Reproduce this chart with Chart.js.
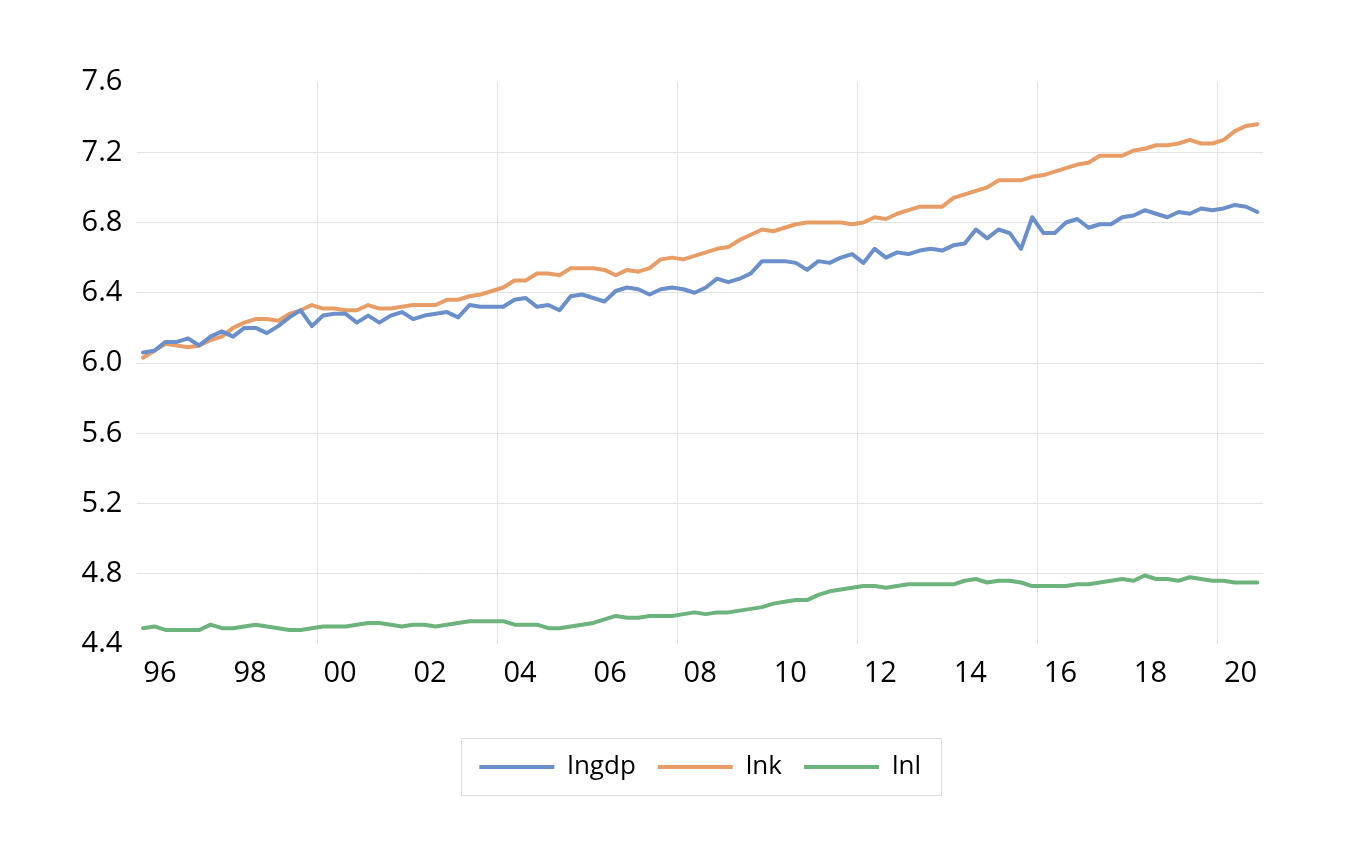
<!DOCTYPE html>
<html>
<head>
<meta charset="utf-8">
<title>lngdp / lnk / lnl</title>
<script src="https://cdn.jsdelivr.net/npm/chart.js@4.4.1/dist/chart.umd.min.js"></script>
<style>
    body { margin: 0; background: #fff; }
    #wrap { width: 1353px; height: 861px; }
</style>
</head>
<body>
<div id="wrap"><canvas id="lineChart" width="1353" height="861"></canvas></div>
<script>
// quarterly, 1996Q1 .. 2020Q4 (x = quarter index 0..99)
const lngdp = [
    6.06, 6.07, 6.12, 6.12, 6.14, 6.10, 6.15, 6.18, 6.15, 6.20,
    6.20, 6.17, 6.21, 6.26, 6.30, 6.21, 6.27, 6.28, 6.28, 6.23,
    6.27, 6.23, 6.27, 6.29, 6.25, 6.27, 6.28, 6.29, 6.26, 6.33,
    6.32, 6.32, 6.32, 6.36, 6.37, 6.32, 6.33, 6.30, 6.38, 6.39,
    6.37, 6.35, 6.41, 6.43, 6.42, 6.39, 6.42, 6.43, 6.42, 6.40,
    6.43, 6.48, 6.46, 6.48, 6.51, 6.58, 6.58, 6.58, 6.57, 6.53,
    6.58, 6.57, 6.60, 6.62, 6.57, 6.65, 6.60, 6.63, 6.62, 6.64,
    6.65, 6.64, 6.67, 6.68, 6.76, 6.71, 6.76, 6.74, 6.65, 6.83,
    6.74, 6.74, 6.80, 6.82, 6.77, 6.79, 6.79, 6.83, 6.84, 6.87,
    6.85, 6.83, 6.86, 6.85, 6.88, 6.87, 6.88, 6.90, 6.89, 6.86
];
const lnk = [
    6.03, 6.07, 6.11, 6.10, 6.09, 6.10, 6.13, 6.15, 6.20, 6.23,
    6.25, 6.25, 6.24, 6.28, 6.30, 6.33, 6.31, 6.31, 6.30, 6.30,
    6.33, 6.31, 6.31, 6.32, 6.33, 6.33, 6.33, 6.36, 6.36, 6.38,
    6.39, 6.41, 6.43, 6.47, 6.47, 6.51, 6.51, 6.50, 6.54, 6.54,
    6.54, 6.53, 6.50, 6.53, 6.52, 6.54, 6.59, 6.60, 6.59, 6.61,
    6.63, 6.65, 6.66, 6.70, 6.73, 6.76, 6.75, 6.77, 6.79, 6.80,
    6.80, 6.80, 6.80, 6.79, 6.80, 6.83, 6.82, 6.85, 6.87, 6.89,
    6.89, 6.89, 6.94, 6.96, 6.98, 7.00, 7.04, 7.04, 7.04, 7.06,
    7.07, 7.09, 7.11, 7.13, 7.14, 7.18, 7.18, 7.18, 7.21, 7.22,
    7.24, 7.24, 7.25, 7.27, 7.25, 7.25, 7.27, 7.32, 7.35, 7.36
];
const lnl = [
    4.49, 4.50, 4.48, 4.48, 4.48, 4.48, 4.51, 4.49, 4.49, 4.50,
    4.51, 4.50, 4.49, 4.48, 4.48, 4.49, 4.50, 4.50, 4.50, 4.51,
    4.52, 4.52, 4.51, 4.50, 4.51, 4.51, 4.50, 4.51, 4.52, 4.53,
    4.53, 4.53, 4.53, 4.51, 4.51, 4.51, 4.49, 4.49, 4.50, 4.51,
    4.52, 4.54, 4.56, 4.55, 4.55, 4.56, 4.56, 4.56, 4.57, 4.58,
    4.57, 4.58, 4.58, 4.59, 4.60, 4.61, 4.63, 4.64, 4.65, 4.65,
    4.68, 4.70, 4.71, 4.72, 4.73, 4.73, 4.72, 4.73, 4.74, 4.74,
    4.74, 4.74, 4.74, 4.76, 4.77, 4.75, 4.76, 4.76, 4.75, 4.73,
    4.73, 4.73, 4.73, 4.74, 4.74, 4.75, 4.76, 4.77, 4.76, 4.79,
    4.77, 4.77, 4.76, 4.78, 4.77, 4.76, 4.76, 4.75, 4.75, 4.75
];

// one label every two years, centred on the year
const yearLabels = ['96', '98', '00', '02', '04', '06', '08', '10', '12', '14', '16', '18', '20'];
const yTicks = [4.4, 4.8, 5.2, 5.6, 6.0, 6.4, 6.8, 7.2, 7.6];

const BLUE = '#6b8fcb';
const ORANGE = '#e99d66';
const GREEN = '#6db37e';
const GRID = '#e3e3e3';

function toPoints(arr) {
    return arr.map((v, i) => ({ x: i, y: v }));
}

// tick positions: labels at year centres, grid lines every 4 years between quarters
const labelPos = yearLabels.map((_, k) => 1.5 + 8 * k);
const gridPos = [15.5, 31.5, 47.5, 63.5, 79.5, 95.5];

const legendFrame = {
    id: 'legendFrame',
    afterLayout(chart) {
        // centre the legend under the plot area
        const lg = chart.legend;
        lg.left = chart.chartArea.left;
        lg.right = chart.chartArea.right;
    },
    afterDraw(chart) {
        const boxes = chart.legend.legendHitBoxes;
        if (!boxes || !boxes.length) return;
        let l = Infinity, r = -Infinity, cy = 0;
        boxes.forEach(b => {
            l = Math.min(l, b.left);
            r = Math.max(r, b.left + b.width);
            cy = b.top + b.height / 2;
        });
        const ctx = chart.ctx;
        ctx.save();
        ctx.strokeStyle = '#dcdcdc';
        ctx.lineWidth = 1;
        ctx.strokeRect(Math.round(l - 18) + 0.5, Math.round(cy - 29) + 0.5, Math.round(r - l + 38), 57);
        ctx.restore();
    }
};

const ctx = document.getElementById('lineChart').getContext('2d');
new Chart(ctx, {
    type: 'line',
    data: {
        datasets: [
            { label: 'lngdp', data: toPoints(lngdp), borderColor: BLUE, backgroundColor: BLUE },
            { label: 'lnk', data: toPoints(lnk), borderColor: ORANGE, backgroundColor: ORANGE },
            { label: 'lnl', data: toPoints(lnl), borderColor: GREEN, backgroundColor: GREEN }
        ]
    },
    options: {
        responsive: false,
        animation: false,
        devicePixelRatio: 1,
        layout: {
            padding: { top: 82, right: 90, bottom: 71, left: 0 }
        },
        elements: {
            line: { borderWidth: 4, tension: 0, borderJoinStyle: 'round', borderCapStyle: 'round' },
            point: { radius: 0, hoverRadius: 0 }
        },
        scales: {
            x: {
                type: 'linear',
                min: -0.5,
                max: 99.5,
                afterBuildTicks(scale) {
                    scale.ticks = labelPos.concat(gridPos).sort((a, b) => a - b).map(v => ({ value: v }));
                },
                afterFit(scale) { scale.height = 88; },
                border: { display: false },
                grid: {
                    drawTicks: false,
                    color: c => gridPos.includes(c.tick.value) ? GRID : 'rgba(0,0,0,0)'
                },
                ticks: {
                    autoSkip: false,
                    maxRotation: 0,
                    padding: 12,
                    color: '#000',
                    font: { family: 'Open Sans', size: 29 },
                    callback: function (value) {
                        const k = labelPos.indexOf(value);
                        return k >= 0 ? yearLabels[k] : '';
                    }
                }
            },
            y: {
                min: 4.4,
                max: 7.6,
                afterBuildTicks(scale) {
                    scale.ticks = yTicks.map(v => ({ value: v }));
                },
                afterFit(scale) { scale.width = 137.4; },
                border: { display: false },
                grid: {
                    drawTicks: false,
                    color: c => (c.tick.value === 4.4 || c.tick.value === 7.6) ? 'rgba(0,0,0,0)' : GRID
                },
                ticks: {
                    padding: 15,
                    color: '#000',
                    font: { family: 'Open Sans', size: 29 },
                    callback: v => v.toFixed(1)
                }
            }
        },
        plugins: {
            tooltip: { enabled: false },
            legend: {
                position: 'bottom',
                labels: {
                    boxWidth: 75,
                    boxHeight: 4,
                    padding: 22,
                    color: '#000',
                    font: { family: 'Open Sans', size: 26 },
                    generateLabels(chart) {
                        const items = Chart.defaults.plugins.legend.labels.generateLabels(chart);
                        items.forEach(it => {
                            it.fillStyle = it.strokeStyle;
                            it.lineWidth = 0;
                        });
                        return items;
                    }
                }
            }
        }
    },
    plugins: [legendFrame]
});
</script>
</body>
</html>
